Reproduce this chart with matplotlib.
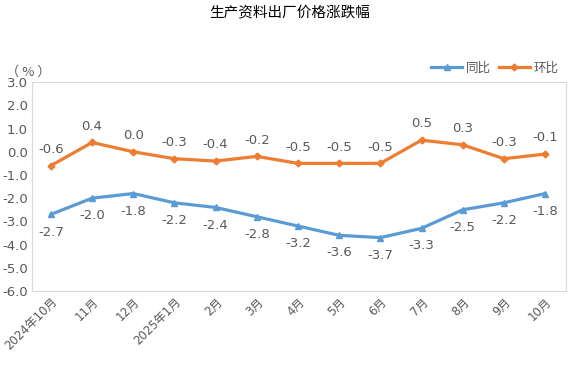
import matplotlib.pyplot as plt

plt.rcParams['font.family'] = ['DejaVu Sans', 'Noto Sans CJK SC']

months = ['2024年10月', '11月', '12月', '2025年1月', '2月', '3月', '4月',
          '5月', '6月', '7月', '8月', '9月', '10月']
tongbi = [-2.7, -2.0, -1.8, -2.2, -2.4, -2.8, -3.2, -3.6, -3.7, -3.3, -2.5, -2.2, -1.8]
huanbi = [-0.6, 0.4, 0.0, -0.3, -0.4, -0.2, -0.5, -0.5, -0.5, 0.5, 0.3, -0.3, -0.1]

blue = '#5B9BD5'
orange = '#ED7D31'
grey = '#595959'

fig = plt.figure(figsize=(5.8, 3.7), dpi=100)
ax = fig.add_axes([0.055, 0.2135, 0.921, 0.5645])
x = range(len(months))

ax.plot(x, tongbi, color=blue, lw=2.3, marker='^', ms=5, label='同比')
ax.plot(x, huanbi, color=orange, lw=2.3, marker='D', ms=3.5, label='环比')

for i, v in enumerate(tongbi):
    ax.annotate(f'{v:.1f}', (i, v), xytext=(0, -8), textcoords='offset points',
                ha='center', va='top', fontsize=9.5, color=grey)
for i, v in enumerate(huanbi):
    ax.annotate(f'{v:.1f}', (i, v), xytext=(0, 7), textcoords='offset points',
                ha='center', va='bottom', fontsize=9.5, color=grey)

ax.set_xlim(-0.46, len(months) - 0.49)
ax.set_ylim(-6, 3)
ax.set_yticks(range(-6, 4))
ax.set_yticklabels([f'{t:.1f}' for t in range(-6, 4)], fontsize=9.5)
ax.set_xticks(list(x))
ax.set_xticklabels(months, rotation=45, ha='right', rotation_mode='anchor', fontsize=8.5)
ax.tick_params(length=0, colors=grey, pad=3)
for s in ax.spines.values():
    s.set_color('#D9D9D9')

fig.text(0.5, 0.965, '生产资料出厂价格涨跌幅', ha='center', va='center', fontsize=10.5,
         family=['Noto Sans CJK SC'], weight='medium')
fig.text(0.01, 0.805, '（ % ）', ha='left', va='center', fontsize=9.5, color=grey,
         family=['Noto Sans CJK SC'])
ax.legend(loc='lower right', bbox_to_anchor=(1.0, 1.0), ncol=2, frameon=False,
          fontsize=9, labelcolor=grey, handlelength=2.5, columnspacing=0.6,
          handletextpad=0.3, borderaxespad=0.2)

fig.savefig('out.png', dpi=100)
